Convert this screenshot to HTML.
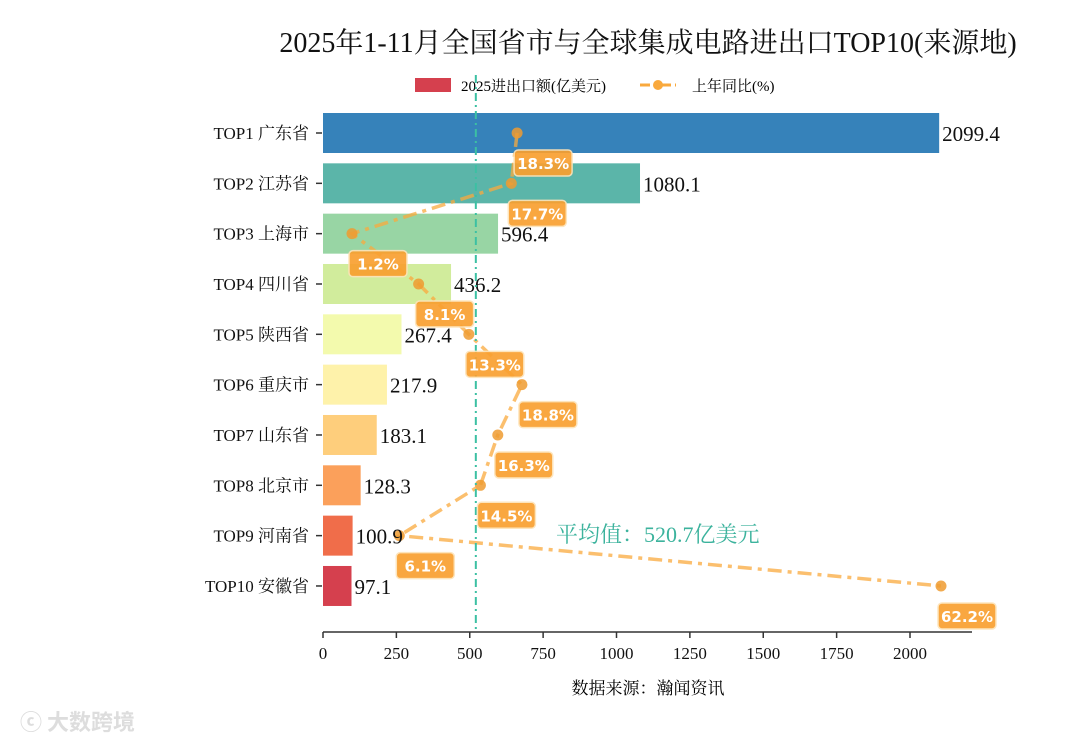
<!DOCTYPE html>
<html><head><meta charset="utf-8"><style>
body{margin:0;background:#fff;width:1080px;height:743px;overflow:hidden}
svg{font-family:"Liberation Serif","Noto Serif CJK SC",serif}
</style></head><body>
<svg id="c" width="1080" height="743" xmlns="http://www.w3.org/2000/svg">
<text x="648" y="52" font-size="28" text-anchor="middle" fill="#111">2025年1-11月全国省市与全球集成电路进出口TOP10(来源地)</text>
<g>
<rect x="415" y="78" width="36" height="14" fill="#d5404e"/>
<text x="461" y="91" font-size="15">2025进出口额(亿美元)</text>
<line x1="640" y1="85" x2="676" y2="85" stroke="#f9a93d" stroke-width="3" stroke-dasharray="10,4,3,4"/>
<circle cx="658" cy="85" r="5" fill="#f9a93d"/>
<text x="692" y="91" font-size="15">上年同比(%)</text>
</g>
<g id="lineG"></g><g id="bars"></g><g id="axes"></g><g id="labels"></g>
<text x="648" y="694" font-size="17" text-anchor="middle" font-family="Noto Serif CJK SC,serif">数据来源：瀚闻资讯</text>
<text x="20" y="730" font-size="22" fill="#ddd" font-family="Noto Sans CJK SC,sans-serif" font-weight="bold">ⓒ 大数跨境</text>
</svg>
<script>
const categories=["TOP1 广东省","TOP2 江苏省","TOP3 上海市","TOP4 四川省","TOP5 陕西省","TOP6 重庆市","TOP7 山东省","TOP8 北京市","TOP9 河南省","TOP10 安徽省"];
const values=[2099.4,1080.1,596.4,436.2,267.4,217.9,183.1,128.3,100.9,97.1];
const yoy=[18.3,17.7,1.2,8.1,13.3,18.8,16.3,14.5,6.1,62.2];
const xTicks=[0,250,500,750,1000,1250,1500,1750,2000];
const avgValue=520.7;
const colors=["#3682ba","#5bb5a9","#98d5a4","#d1ec9c","#f3faad","#fef2aa","#fece7c","#fba05b","#f06d4a","#d5404e"];
const NS="http://www.w3.org/2000/svg";
const x=v=>323+v*0.2935;
const x2=v=>340.4+v*9.656;
const y=i=>133+i*50.33;
function mk(t,a,p){const e=document.createElementNS(NS,t);for(const k in a)e.setAttribute(k,a[k]);p.appendChild(e);return e;}
const bars=document.getElementById('bars'),axes=document.getElementById('axes'),labels=document.getElementById('labels'),lineG=document.getElementById('lineG');
categories.forEach((c,i)=>{
 const r=mk('rect',{x:x(0),y:y(i)-20,width:x(values[i])-x(0),height:40,fill:colors[i]},bars);
 
 
 const t=mk('text',{x:x(values[i])+3,y:y(i)+8,'font-size':21,fill:'#111'},labels);
 t.textContent=values[i].toFixed(1);
 
 
 const yl=mk('text',{x:309,y:y(i)+6,'font-size':17,'text-anchor':'end',fill:'#111'},axes);
 yl.textContent=c;
 
 
 mk('line',{x1:316,x2:322,y1:y(i),y2:y(i),stroke:'#333','stroke-width':1.5},axes);
});
// line (drawn over bars, semi-transparent)
const pts=yoy.map((v,i)=>x2(v)+','+y(i)).join(' ');
const pl=mk('polyline',{points:pts,fill:'none',stroke:'#f9a93d','stroke-width':3.5,'stroke-dasharray':'14,6,4,6','stroke-opacity':0.75},lineG);
bars.after(lineG);


yoy.forEach((v,i)=>{
 const c=mk('circle',{cx:x2(v),cy:y(i),r:5.5,fill:'#ef9b30','fill-opacity':0.85},lineG);
 
 
});
const al=mk('line',{x1:x(avgValue),x2:x(avgValue),y1:75,y2:632,stroke:'#3cc0a3','stroke-width':2,'stroke-dasharray':'8,4,2,4'},labels);


const at=mk('text',{x:556,y:542,'font-size':22,fill:'#3cb39d'},labels);
at.textContent='平均值：'+avgValue+'亿美元';


yoy.forEach((v,i)=>{
 const cx=x2(v)+26,cy=y(i)+30;
 const g=mk('g',{},labels);
 
 
 mk('rect',{x:cx-29,y:cy-13,width:58,height:26,rx:4,fill:'#f9a030',stroke:'#fde3b8','stroke-width':1.5,opacity:0.92},g);
 const t=mk('text',{x:cx,y:cy+6,'font-size':15,'font-weight':'bold','text-anchor':'middle',fill:'#fff','font-family':'DejaVu Sans,sans-serif'},g);
 t.textContent=v.toFixed(1)+'%';
});
const ax=mk('line',{x1:323,x2:972,y1:632,y2:632,stroke:'#333','stroke-width':1.5},axes);


xTicks.forEach(v=>{
 mk('line',{x1:x(v),x2:x(v),y1:632,y2:638,stroke:'#333','stroke-width':1.5},axes);
 const t=mk('text',{x:x(v),y:659,'font-size':17,'text-anchor':'middle',fill:'#111'},axes);
 t.textContent=v;
 
 
});
</script>
</body></html>
